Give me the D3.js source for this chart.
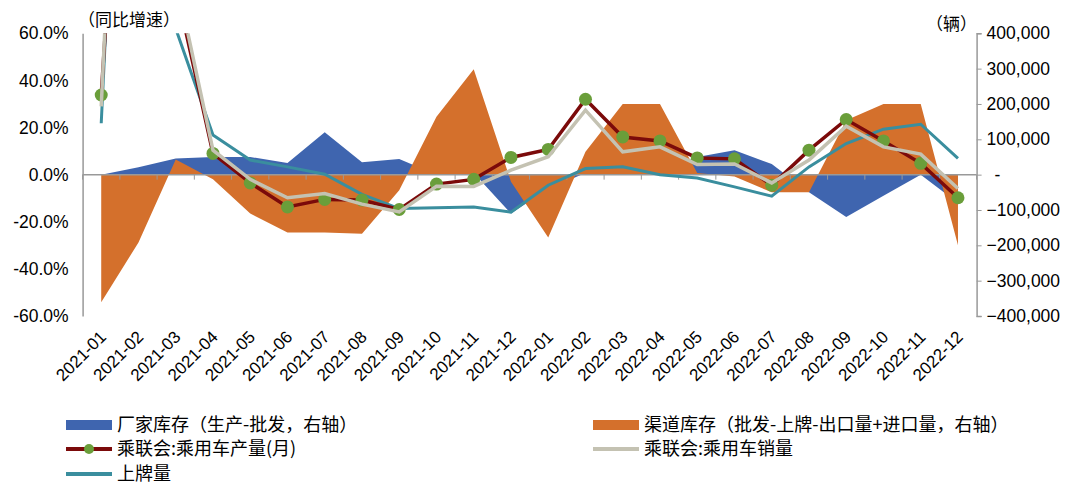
<!DOCTYPE html>
<html>
<head>
<meta charset="utf-8">
<script src="https://cdn.jsdelivr.net/npm/d3@7"></script>
<style>
  body { margin: 0; background: #fff; }
  text { font-family: "Liberation Sans", Arial, "Noto Sans CJK SC", sans-serif; fill: #000; }
  .cjk { font-family: "Noto Sans CJK SC", sans-serif; }
</style>
</head>
<body>
<svg id="chart" width="1080" height="502"></svg>
<script>
const months = ["2021-01","2021-02","2021-03","2021-04","2021-05","2021-06","2021-07","2021-08","2021-09","2021-10","2021-11","2021-12",
                "2022-01","2022-02","2022-03","2022-04","2022-05","2022-06","2022-07","2022-08","2022-09","2022-10","2022-11","2022-12"];

// 右轴（辆）
const factoryStock = [0, 21000, 46000, 50000, 50000, 33000, 120000, 35000, 44000, 0, 5000, -110000,
                      -40000, 5000, 10000, 10000, 50000, 69000, 30000, -50000, -120000, -60000, 0, -80000];
const channelStock = [-361000, -192000, 43000, -13000, -110000, -164000, -164000, -167000, -44000, 164000, 298000, -20000,
                      -178000, 65000, 200000, 200000, 5000, -5000, -50000, -50000, 154000, 200000, 200000, -200000];

// 左轴（同比增速，%）
const production = [33.8, 280, 80, 9.0, -3.5, -13.7, -10.5, -10.8, -14.8, -4.0, -2.0, 7.3,
                    10.7, 32, 16, 14.3, 7.1, 6.7, -4.5, 10.4, 23.4, 14.3, 4.8, -9.8];
const sales = [29, 365, 84, 10.4, -2.0, -9.8, -8.0, -12.5, -15.8, -4.9, -5.0, 1.9,
               7.6, 27.4, 9.7, 11.8, 4.3, 4.5, -3.5, 6.2, 20.6, 11.8, 8.7, -5.9];
const registrations = [21.8, 350, 62, 16.8, 6.2, 3.3, 0.2, -8.4, -14.4, -14.1, -13.7, -15.9,
                       -4.5, 2.6, 3.3, 0, -1.4, -5.2, -9.1, 3.3, 13.2, 19.3, 21.4, 6.9];

const leftTicks = [-60, -40, -20, 0, 20, 40, 60];
const rightTicks = [-400000, -300000, -200000, -100000, 0, 100000, 200000, 300000, 400000];

const colors = {
    factory: "#3F65AF",
    channel: "#D4702C",
    prod: "#7B0A0A",
    dot: "#6A9E3A",
    sales: "#C4C2B2",
    reg: "#3A8E9E"
};

const margin = {left: 82.6, right: 103.4, top: 33.3, bottom: 186};
const width = 1080 - margin.left - margin.right;
const height = 502 - margin.top - margin.bottom;

const svg = d3.select("#chart");
const g = svg.append("g").attr("transform", `translate(${margin.left},${margin.top})`);

const x = d3.scaleBand().domain(months).range([0, width]);
const yL = d3.scaleLinear().domain([-60, 60]).range([height, 0]);
const yR = d3.scaleLinear().domain([-400000, 400000]).range([height, 0]);
const cx = (d) => x(d) + x.bandwidth() / 2;

g.append("clipPath").attr("id", "plotClip")
    .append("rect").attr("x", -5).attr("y", 0).attr("width", width + 10).attr("height", height);

// 面积：厂家库存在下，渠道库存在上
const area = d3.area()
    .x((d, i) => cx(months[i]))
    .y0(yR(0))
    .y1((d) => yR(d));

g.append("path").datum(factoryStock).attr("d", area).attr("fill", colors.factory);
g.append("path").datum(channelStock).attr("d", area).attr("fill", colors.channel);

// 零线
g.append("line")
    .attr("x1", 0).attr("x2", width)
    .attr("y1", yR(0)).attr("y2", yR(0))
    .attr("stroke", "#999").attr("stroke-width", 1.5);

// x轴刻度
g.selectAll(".xtick")
    .data(d3.range(months.length + 1))
    .enter().append("line")
    .attr("x1", (i) => i * x.step()).attr("x2", (i) => i * x.step())
    .attr("y1", yR(0)).attr("y2", yR(0) + 5)
    .attr("stroke", "#999");

const line = (arr) => d3.line()
    .x((d, i) => cx(months[i]))
    .y((d) => yL(d))(arr);

const lines = g.append("g").attr("clip-path", "url(#plotClip)");
lines.append("path").attr("d", line(registrations)).attr("fill", "none")
    .attr("stroke", colors.reg).attr("stroke-width", 3);
lines.append("path").attr("d", line(production)).attr("fill", "none")
    .attr("stroke", colors.prod).attr("stroke-width", 3.5);
lines.selectAll(".dot")
    .data(production)
    .enter().append("circle")
    .attr("cx", (d, i) => cx(months[i]))
    .attr("cy", (d) => yL(d))
    .attr("r", 6.5)
    .attr("fill", colors.dot);
lines.append("path").attr("d", line(sales)).attr("fill", "none")
    .attr("stroke", colors.sales).attr("stroke-width", 3.5);

// 左轴
const leftAxis = g.append("g")
    .call(d3.axisLeft(yL).tickValues(leftTicks).tickSize(0).tickPadding(14)
        .tickFormat((d) => d.toFixed(1) + "%"));
leftAxis.select(".domain").attr("stroke", "#999").attr("stroke-width", 1.5);
leftAxis.selectAll("text").attr("font-size", 17.5).attr("font-family", "Liberation Sans, Arial, sans-serif");

// 右轴
const rightAxis = g.append("g")
    .attr("transform", `translate(${width},0)`)
    .call(d3.axisRight(yR).tickValues(rightTicks).tickSize(5).tickPadding(5)
        .tickFormat((d) => d === 0 ? "-" : d3.format(",")(d)));
rightAxis.select(".domain").attr("stroke", "#999").attr("stroke-width", 1.5);
rightAxis.selectAll("line").attr("stroke", "#999");
rightAxis.selectAll("text").attr("font-size", 17.5).attr("font-family", "Liberation Sans, Arial, sans-serif")
    .attr("dx", (d) => d === 0 ? 8 : 0);

// x轴标签
g.selectAll(".xlabel")
    .data(months)
    .enter().append("text")
    .attr("transform", (d) => `translate(${cx(d) + 6},${height + 22}) rotate(-45)`)
    .attr("text-anchor", "end")
    .attr("font-size", 17)
    .text((d) => d);

// 单位
svg.append("text").attr("class", "cjk").attr("x", 78).attr("y", 26).attr("font-size", 17).text("（同比增速）");
svg.append("text").attr("class", "cjk").attr("x", 926).attr("y", 30).attr("font-size", 17).text("（辆）");

// 图例
const legendItems = [
    {label: "厂家库存（生产-批发，右轴）", type: "area", color: colors.factory, x: 66, y: 425},
    {label: "渠道库存（批发-上牌-出口量+进口量，右轴）", type: "area", color: colors.channel, x: 593, y: 425},
    {label: "乘联会:乘用车产量(月)", type: "dot", color: colors.prod, x: 66, y: 449},
    {label: "乘联会:乘用车销量", type: "line", color: colors.sales, x: 593, y: 449},
    {label: "上牌量", type: "line", color: colors.reg, x: 66, y: 474}
];

const legend = svg.append("g");
legendItems.forEach((item) => {
    const lg = legend.append("g").attr("transform", `translate(${item.x},${item.y})`);
    if (item.type === "area")
        lg.append("rect").attr("x", 0).attr("y", -5).attr("width", 46).attr("height", 10).attr("fill", item.color);
    else
        lg.append("line").attr("x1", 0).attr("x2", 46).attr("y1", 0).attr("y2", 0)
            .attr("stroke", item.color).attr("stroke-width", 4);
    if (item.type === "dot")
        lg.append("circle").attr("cx", 23).attr("cy", 0).attr("r", 5).attr("fill", colors.dot);
    lg.append("text").attr("class", "cjk").attr("x", 51).attr("y", 6)
        .attr("font-size", 18).text(item.label);
});
</script>
</body>
</html>
